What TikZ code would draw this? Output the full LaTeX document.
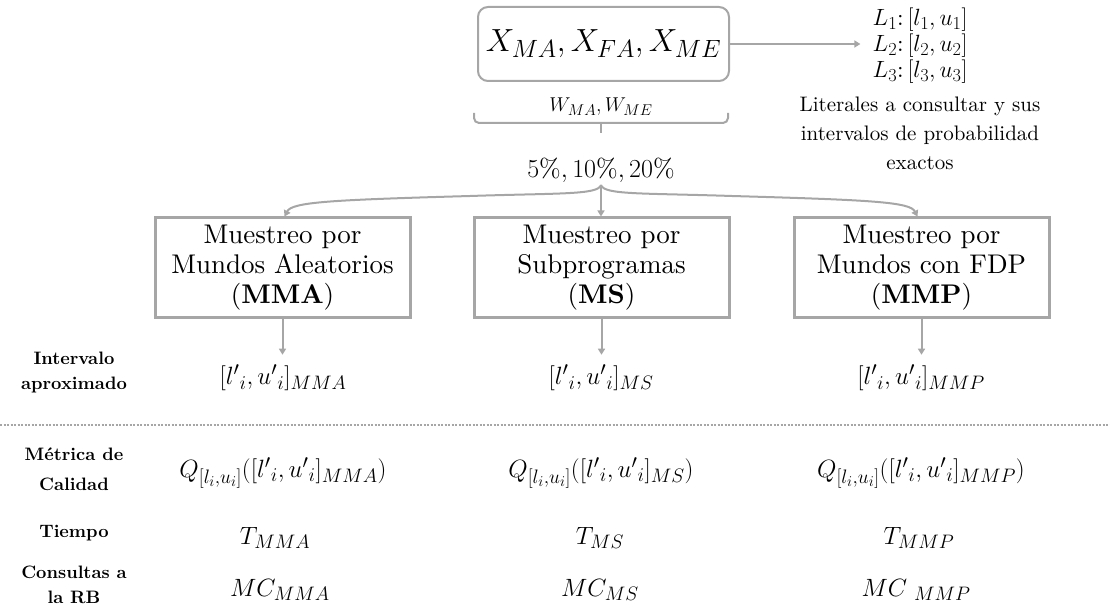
\RequirePackage{fix-cm}
\documentclass[tikz,border=0pt]{standalone}
\usepackage{fontspec}
\setmainfont{lmroman10-regular}[Extension=.otf, BoldFont=lmroman10-bold, ItalicFont=lmroman10-italic, BoldItalicFont=lmroman10-bolditalic]
\renewcommand\defaultscriptratio{.78}
\renewcommand\defaultscriptscriptratio{.6}
\usetikzlibrary{arrows.meta}
\definecolor{lgray}{HTML}{A6A6A6}
\tikzset{
  sbox/.style={draw=lgray, line width=3pt, minimum width=255pt, minimum height=99pt, align=center, inner sep=0pt, font=\fontsize{27}{30}\selectfont},
  conn/.style={draw=lgray, line width=2pt, -{Triangle[width=7pt,length=6pt]}},
  lbl/.style={align=center, font=\fontsize{18}{25}\selectfont\bfseries},
  mth/.style={font=\fontsize{25}{30}\selectfont, inner sep=0pt},
  topbox/.style={draw=lgray, line width=2pt, rounded corners=10pt, minimum width=251pt, minimum height=74pt, inner sep=0pt, font=\fontsize{32}{40}\selectfont},
  bracestyle/.style={draw=lgray, line width=2pt, rounded corners=5pt},
  sep/.style={draw=lgray, line width=2pt, dash pattern=on 2pt off 1.5pt},
}
\begin{document}
\begin{tikzpicture}[x=1pt,y=-1pt]
\useasboundingbox (0,0) rectangle (1110,612);

% top
\node[topbox] (top) at (603.5,44) {$X_{MA}, X_{FA}, X_{ME}$};
\node[align=center, inner sep=0pt, font=\fontsize{23.5}{26}\selectfont] (lits) at (920,46) {$L_1$:\,$[l_1,u_1]$\\$L_2$:\,$[l_2,u_2]$\\$L_3$:\,$[l_3,u_3]$};
\draw[conn] (top.east) -- ([xshift=-12pt]top.east -| lits.west);
\node[align=center, font=\fontsize{21}{29}\selectfont] (desc) at (920,133) {Literales a consultar y sus\\intervalos de probabilidad\\exactos};

\node[font=\fontsize{20}{24}\selectfont] (w) at (601,107) {$W_{MA}, W_{ME}$};
\coordinate (bl) at (474,113);
\coordinate (br) at (728,113);
\coordinate (bt) at (601,123);
\coordinate (bb) at (601,133);
\draw[bracestyle] (bl) -- (474,123) -- (728,123) -- (br);
\draw[bracestyle] (bt) -- (bb);

\node[font=\fontsize{26}{30}\selectfont] (pct) at (601,170) {$5\%, 10\%, 20\%$};
\coordinate (fork) at (601,185);

% sampling boxes
\node[sbox] (mma) at (282.5,267.5) {Muestreo por\\Mundos Aleatorios\\(\textbf{MMA})};
\node[sbox] (ms) at (601.5,267.5) {Muestreo por\\Subprogramas\\(\textbf{MS})};
\node[sbox] (mmp) at (921.5,267.5) {Muestreo por\\Mundos con FDP\\(\textbf{MMP})};

\draw[conn] (fork) -- (fork |- ms.north);
\draw[conn] (fork) .. controls (598,195) and (560,193) .. (470,196) .. controls (330,200) and (292,202) .. ([xshift=2pt]mma.north);
\draw[conn] (fork) .. controls (604,195) and (642,193) .. (732,196) .. controls (872,200) and (910,202) .. ([xshift=-4pt]mmp.north);

% intervals
\node[mth] (imma) at (283,378) {$[{l'}_i,{u'}_i]_{MMA}$};
\node[mth] (ims) at (601,378) {$[{l'}_i,{u'}_i]_{MS}$};
\node[mth] (immp) at (921,378) {$[{l'}_i,{u'}_i]_{MMP}$};
\draw[conn] (mma.south) -- ([yshift=10pt]mma.south |- imma.north);
\draw[conn] (ms.south) -- ([yshift=10pt]ms.south |- ims.north);
\draw[conn] (mmp.south) -- ([yshift=10pt]mmp.south |- immp.north);
\node[lbl] (liv) at (74,372) {Intervalo\\aproximado};

% separator
\coordinate (sl) at (0,425);
\coordinate (sr) at (1110,425);
\draw[sep] (sl) -- (sr);

% metrics
\node[lbl, font=\fontsize{18}{30}\selectfont\bfseries] (lq) at (74,469) {Métrica de\\Calidad};
\node[lbl] (lt) at (74,533) {Tiempo};
\node[lbl] (lc) at (74,585) {Consultas a\\la RB};

\node[mth] (qmma) at (283,473) {$Q_{[l_i,u_i]}([{l'}_i,{u'}_i]_{MMA})$};
\node[mth] (qms) at (601,473) {$Q_{[l_i,u_i]}([{l'}_i,{u'}_i]_{MS})$};
\node[mth] (qmmp) at (921,473) {$Q_{[l_i,u_i]}([{l'}_i,{u'}_i]_{MMP})$};

\node[mth] (tmma) at (275,538) {$T_{MMA}$};
\node[mth] (tms) at (600,538) {$T_{MS}$};
\node[mth] (tmmp) at (919,538) {$T_{MMP}$};

\node[mth] (cmma) at (280,590) {$MC_{MMA}$};
\node[mth] (cms) at (600,590) {$MC_{MS}$};
\node[mth] (cmmp) at (916,590) {$MC\;{}_{MMP}$};
\end{tikzpicture}
\end{document}
